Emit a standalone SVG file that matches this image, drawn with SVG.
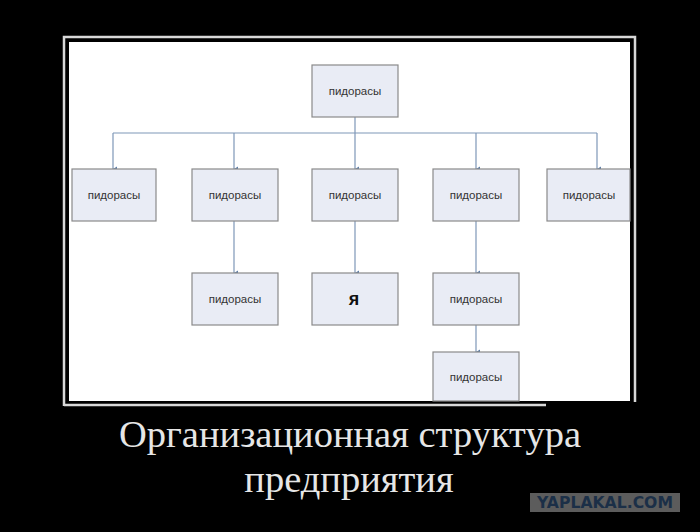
<svg xmlns="http://www.w3.org/2000/svg" width="700" height="532" viewBox="0 0 700 532">
<defs>
<style>
.frame{stroke:#d8d8d8;stroke-width:2.5;fill:none}
.node rect{fill:#e9ecf5;stroke:#8a8a8a;stroke-width:1.2}
.node text{font-family:"Liberation Sans",Arial,sans-serif;font-size:11.5px;fill:#333;text-anchor:middle}
.conn{stroke:#7e97b8;stroke-width:1.2;fill:none}
.cap{font-family:"Liberation Serif","Times New Roman",serif;font-size:38.5px;fill:#e6e6e6;text-anchor:middle}
</style>
<marker id="ah" markerWidth="6" markerHeight="6" refX="3" refY="5" orient="auto" markerUnits="userSpaceOnUse">
<path d="M0.5,1 L3,5 L5.5,1 Z" fill="#5f7ea8"/>
</marker>
</defs>
<rect width="700" height="532" fill="#000"/>
<g id="frame">
<path class="frame" d="M64,406 L64,37 L635,37 L635,402"/>
<line class="frame" x1="64" y1="405" x2="546" y2="405"/>
<rect x="69" y="42" width="561" height="359" fill="#fff"/>
</g>
<g id="connectors">
<line class="conn" x1="355" y1="117" x2="355" y2="133"/>
<line class="conn" x1="113" y1="133" x2="597" y2="133"/>
<line class="conn" x1="113" y1="133" x2="113" y2="169" marker-end="url(#ah)"/>
<line class="conn" x1="234" y1="133" x2="234" y2="169" marker-end="url(#ah)"/>
<line class="conn" x1="355" y1="133" x2="355" y2="169" marker-end="url(#ah)"/>
<line class="conn" x1="476" y1="133" x2="476" y2="169" marker-end="url(#ah)"/>
<line class="conn" x1="597" y1="133" x2="597" y2="169" marker-end="url(#ah)"/>
<line class="conn" x1="234" y1="221" x2="234" y2="273" marker-end="url(#ah)"/>
<line class="conn" x1="355" y1="221" x2="355" y2="273" marker-end="url(#ah)"/>
<line class="conn" x1="476" y1="221" x2="476" y2="273" marker-end="url(#ah)"/>
<line class="conn" x1="476" y1="325" x2="476" y2="352" marker-end="url(#ah)"/>
</g>
<g id="n0" class="node"><rect x="312" y="65" width="86" height="52"/><text x="355" y="95">пидорасы</text></g>
<g id="n1" class="node"><rect x="72" y="169" width="84" height="52"/><text x="114" y="199">пидорасы</text></g>
<g id="n2" class="node"><rect x="192" y="169" width="86" height="52"/><text x="235" y="199">пидорасы</text></g>
<g id="n3" class="node"><rect x="312" y="169" width="86" height="52"/><text x="355" y="199">пидорасы</text></g>
<g id="n4" class="node"><rect x="433" y="169" width="86" height="52"/><text x="476" y="199">пидорасы</text></g>
<g id="n5" class="node"><rect x="547" y="169" width="83" height="52"/><text x="589" y="199">пидорасы</text></g>
<g id="n6" class="node"><rect x="192" y="273" width="86" height="52"/><text x="235" y="303">пидорасы</text></g>
<g id="n7" class="node"><rect x="312" y="273" width="86" height="52"/><text x="354" y="305" style="font-size:18px;font-weight:bold;fill:#111">я</text></g>
<g id="n8" class="node"><rect x="433" y="273" width="86" height="52"/><text x="476" y="303">пидорасы</text></g>
<g id="n9" class="node"><rect x="433" y="352" width="86" height="49"/><text x="476" y="381">пидорасы</text></g>
<g id="caption">
<text class="cap" x="350" y="447">Организационная структура</text>
<text class="cap" x="349" y="492">предприятия</text>
</g>
<g id="watermark">
<rect x="530" y="493" width="150" height="19" fill="#5c5c5c"/>
<text x="605" y="508" text-anchor="middle" font-family="'DejaVu Sans',sans-serif" font-weight="bold" font-size="15" fill="#1b2f47" textLength="136" lengthAdjust="spacingAndGlyphs">YAPLAKAL.COM</text>
</g>
</svg>
